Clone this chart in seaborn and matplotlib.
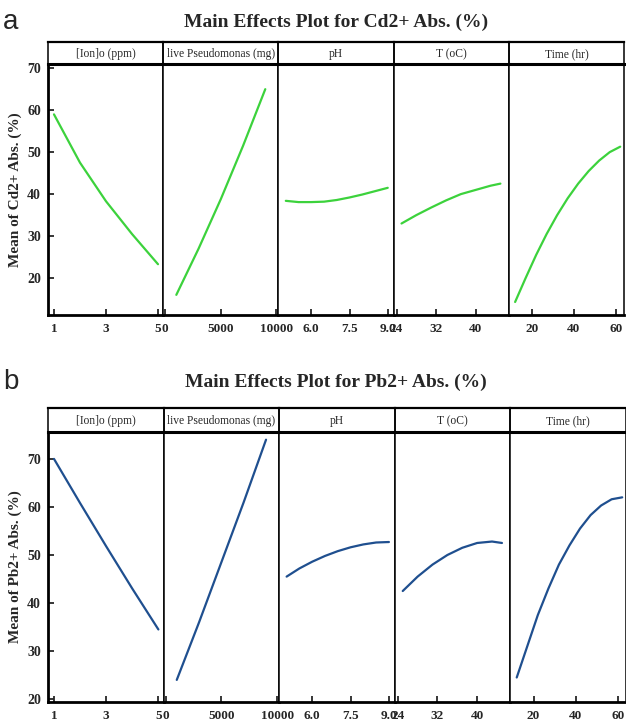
import pandas as pd
import matplotlib.pyplot as plt
import seaborn as sns

# factor names (header strips) and their levels
factors = ['[Ion]o (ppm)', 'live Pseudomonas (mg)', 'pH', 'T (oC)', 'Time (hr)']

ion_lv = [1, 2, 3, 4, 5]
pseudo_lv = [1000, 3000, 5000, 7000, 9000]
ph_lv = [5.0, 5.5, 6.0, 6.5, 7.0, 7.5, 8.0, 8.5, 9.0]
temp_lv = [25, 28, 31, 34, 37, 40, 43, 45]
time_lv = [12, 17, 22, 27, 32, 37, 42, 47, 52, 57, 62]

# mean Cd2+ absorption (%)
cd_ion = [59.0, 47.5, 38.3, 30.5, 23.3]
cd_pseudo = [16.0, 27.0, 38.8, 51.5, 65.0]
cd_ph = [38.4, 38.1, 38.1, 38.2, 38.6, 39.2, 39.9, 40.7, 41.5]
cd_temp = [33.0, 35.0, 36.8, 38.5, 40.0, 41.0, 42.0, 42.5]
cd_time = [14.3, 20.0, 25.5, 30.5, 35.0, 39.0, 42.5, 45.5, 48.0, 50.0, 51.3]

# mean Pb2+ absorption (%)
pb_ion = [70.0, 60.8, 51.8, 43.0, 34.5]
pb_pseudo = [24.0, 36.0, 48.5, 61.0, 74.0]
pb_ph = [45.5, 47.2, 48.6, 49.8, 50.8, 51.6, 52.2, 52.6, 52.7]
pb_temp = [42.5, 45.5, 48.0, 50.0, 51.5, 52.5, 52.8, 52.5]
pb_time = [24.5, 31.0, 37.5, 43.0, 48.0, 52.0, 55.5, 58.3, 60.3, 61.6, 62.0]

x_ticks = [[1, 3, 5], [0, 5000, 10000], [6.0, 7.5, 9.0], [24, 32, 40], [20, 40, 60]]
x_labels = [['1', '3', '5'], ['0', '5000', '10000'], ['6.0', '7.5', '9.0'],
            ['24', '32', '40'], ['20', '40', '60']]
x_lims = [(0.77, 5.2), (-180, 10180), (4.71, 9.23), (23.4, 46.7), (9.0, 63.8)]
y_ticks = [20, 30, 40, 50, 60, 70]

levels = [ion_lv, pseudo_lv, ph_lv, temp_lv, time_lv]


def long_table(series):
    rows = []
    for f, lv, vals in zip(factors, levels, series):
        for a, b in zip(lv, vals):
            rows.append({'factor': f, 'level': a, 'mean': b})
    return pd.DataFrame(rows)


cd_df = long_table([cd_ion, cd_pseudo, cd_ph, cd_temp, cd_time])
pb_df = long_table([pb_ion, pb_pseudo, pb_ph, pb_temp, pb_time])

sns.set_style('white')
plt.rcParams['font.family'] = ['Liberation Serif', 'DejaVu Serif']

W, H = 626, 727
fig = plt.figure(figsize=(W / 100, H / 100), dpi=100)


def px(x0, y0, x1, y1):
    return [x0 / W, 1 - y1 / H, (x1 - x0) / W, (y1 - y0) / H]


def draw_panel(df, color, ylim, top_hdr, top, bottom, right, ylabel, title, letter, title_y):
    left = 48
    pw = (right - left) / 5
    for i, f in enumerate(factors):
        x0 = left + i * pw
        ax = fig.add_axes(px(x0, top, x0 + pw, bottom))
        sub = df[df['factor'] == f]
        sns.lineplot(data=sub, x='level', y='mean', color=color, lw=1.6, ax=ax)
        ax.set_xlim(*x_lims[i])
        ax.set_ylim(*ylim)
        ax.set_xlabel('')
        ax.set_ylabel('')
        ax.set_xticks(x_ticks[i])
        ax.set_xticklabels(x_labels[i], fontsize=9.5, fontweight='bold')
        ax.tick_params(axis='x', direction='in', length=4, width=1.3, pad=6, bottom=True)
        if i == 0:
            ax.set_yticks(y_ticks)
            ax.set_yticklabels([str(t) for t in y_ticks], fontsize=10, fontweight='bold')
            ax.tick_params(axis='y', direction='in', length=4, width=1.3, pad=5, left=True)
        else:
            ax.set_yticks([])
        for s in ax.spines.values():
            s.set_color('black')
            s.set_linewidth(1.1)
        ax.spines['bottom'].set_linewidth(2)
        if i == 0:
            ax.spines['left'].set_linewidth(2)
        ax.spines['top'].set_visible(False)

        hd = fig.add_axes(px(x0, top_hdr, x0 + pw, top))
        hd.patch.set_alpha(0)
        hd.set_xticks([])
        hd.set_yticks([])
        for s in hd.spines.values():
            s.set_color('black')
            s.set_linewidth(1.1)
        hd.spines['bottom'].set_linewidth(2.2)
        hd.spines['top'].set_linewidth(1.6)
        hd.text(0.5, 0.45, f, ha='center', va='center', fontsize=8.3, transform=hd.transAxes)

    fig.text(15 / W, 1 - (top + bottom) / 2 / H, ylabel, rotation=90, ha='center', va='center',
             fontsize=11, fontweight='bold')
    fig.text(336 / W, 1 - title_y / H, title, ha='center', va='center', fontsize=14,
             fontweight='bold')
    fig.text(3 / W, 1 - title_y / H, letter, ha='left', va='center', fontsize=20,
             family=['Liberation Sans', 'DejaVu Sans'])


draw_panel(cd_df, '#3cd23c', (11.2, 71.0), 42, 64, 315, 624,
           'Mean of Cd2+ Abs. (%)', 'Main Effects Plot for Cd2+ Abs. (%)', 'a', 22)
draw_panel(pb_df, '#1f4f8f', (19.4, 75.6), 408, 432, 702, 626,
           'Mean of Pb2+ Abs. (%)', 'Main Effects Plot for Pb2+ Abs. (%)', 'b', 382)

fig.savefig('out.png', dpi=100, facecolor='white')
